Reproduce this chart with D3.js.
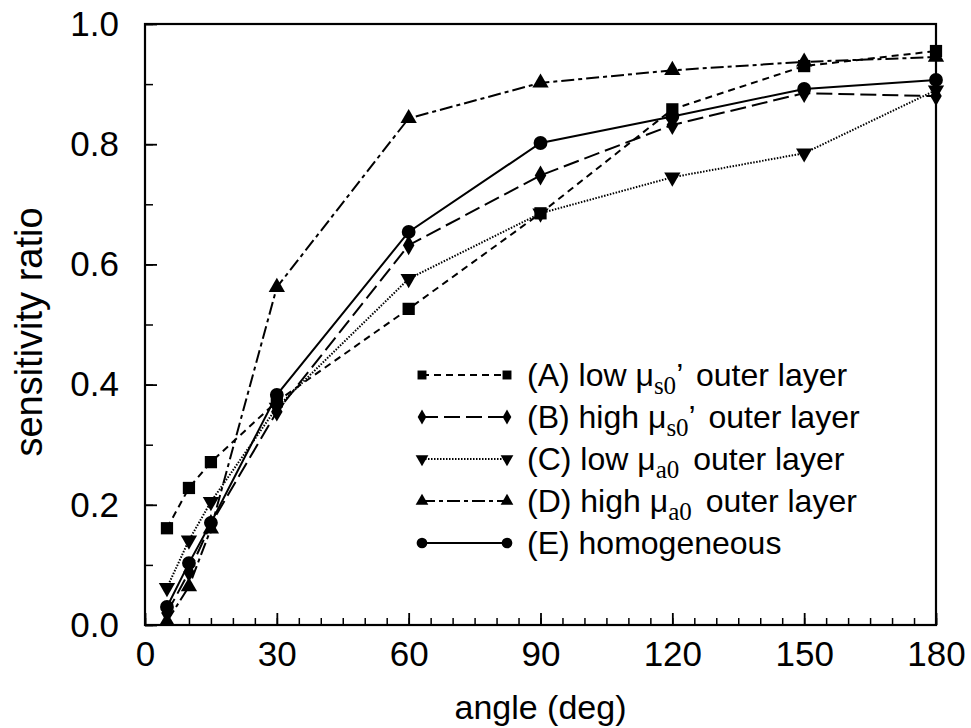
<!DOCTYPE html>
<html>
<head>
<meta charset="utf-8">
<script src="https://cdn.jsdelivr.net/npm/d3@7"></script>
<style>
  body { margin: 0; background: #fff; }
  svg text { font-family: "Liberation Sans", Arial, Helvetica, sans-serif; fill: #000; }
</style>
</head>
<body>
<div id="chart"></div>
<script>
const frame_width = 971;
const frame_height = 728;
const margins = {left: 145, right: 35, top: 24, bottom: 103};

// data
const angles = [5, 10, 15, 30, 60, 90, 120, 150, 180];
const lowMus = [0.161, 0.228, 0.271, 0.372, 0.526, 0.685, 0.858, 0.930, 0.955];
const highMus = [0.020, 0.088, 0.168, 0.355, 0.632, 0.748, 0.832, 0.885, 0.880];
const lowMua = [0.062, 0.141, 0.205, 0.362, 0.576, 0.685, 0.745, 0.785, 0.890];
const highMua = [0.006, 0.064, 0.160, 0.562, 0.843, 0.902, 0.923, 0.937, 0.945];
const homog = [0.030, 0.103, 0.170, 0.383, 0.654, 0.802, 0.846, 0.892, 0.907];

const x_ticks = [0, 30, 60, 90, 120, 150, 180];
const y_ticks = [0, 0.2, 0.4, 0.6, 0.8, 1.0];

const series = [
    {key: "A", values: lowMus, symbol: d3.symbolSquare, size: 150, small: 80, rot: 0, dash: "7,5", width: 2},
    {key: "B", values: highMus, symbol: d3.symbolDiamond, size: 115, small: 65, rot: 0, dash: "16,6", width: 2},
    {key: "C", values: lowMua, symbol: d3.symbolTriangle, size: 115, small: 70, rot: 180, dash: "1.5,1.5", width: 2},
    {key: "D", values: highMua, symbol: d3.symbolTriangle, size: 115, small: 70, rot: 0, dash: "13,4,4,4", width: 2},
    {key: "E", values: homog, symbol: d3.symbolCircle, size: 150, small: 90, rot: 0, dash: null, width: 2}
];

const FRAME = d3.select("#chart")
    .append("svg")
        .attr("width", frame_width)
        .attr("height", frame_height);

const X_SCALE = d3.scaleLinear()
    .domain([0, 180])
    .range([margins.left, frame_width - margins.right]);

const Y_SCALE = d3.scaleLinear()
    .domain([0, 1])
    .range([frame_height - margins.bottom, margins.top]);

// minor ticks, pointing inward
FRAME.append("g")
    .attr("transform", "translate(0," + (frame_height - margins.bottom) + ")")
    .call(d3.axisBottom(X_SCALE).tickValues(d3.range(0, 181, 5)).tickSize(-7).tickFormat(""))
    .call(g => g.select(".domain").remove())
    .selectAll("line").attr("stroke-width", 1.5);

FRAME.append("g")
    .attr("transform", "translate(" + margins.left + ",0)")
    .call(d3.axisLeft(Y_SCALE).tickValues(d3.range(0, 1.01, 0.1)).tickSize(-8).tickFormat(""))
    .call(g => g.select(".domain").remove())
    .selectAll("line").attr("stroke-width", 1.5);

// major ticks with labels
FRAME.append("g")
    .attr("transform", "translate(0," + (frame_height - margins.bottom) + ")")
    .call(d3.axisBottom(X_SCALE).tickValues(x_ticks).tickSize(-12).tickPadding(16).tickFormat(d3.format("d")))
    .call(g => g.select(".domain").remove())
    .call(g => g.selectAll("line").attr("stroke-width", 1.8))
    .selectAll("text").attr("font-size", "35px");

FRAME.append("g")
    .attr("transform", "translate(" + margins.left + ",0)")
    .call(d3.axisLeft(Y_SCALE).tickValues(y_ticks).tickSize(-12).tickPadding(26).tickFormat(d3.format(".1f")))
    .call(g => g.select(".domain").remove())
    .call(g => g.selectAll("line").attr("stroke-width", 1.8))
    .selectAll("text").attr("font-size", "35px");

// plot box
FRAME.append("rect")
    .attr("x", X_SCALE(0))
    .attr("y", Y_SCALE(1))
    .attr("width", X_SCALE(180) - X_SCALE(0))
    .attr("height", Y_SCALE(0) - Y_SCALE(1))
    .attr("fill", "none")
    .attr("stroke", "#000")
    .attr("stroke-width", 2.2);

// axis titles
FRAME.append("text")
    .attr("x", (X_SCALE(0) + X_SCALE(180)) / 2)
    .attr("y", 719)
    .attr("text-anchor", "middle")
    .attr("font-size", "34px")
    .text("angle (deg)");

FRAME.append("text")
    .attr("transform", "translate(42,332) rotate(-90)")
    .attr("text-anchor", "middle")
    .attr("font-size", "38px")
    .text("sensitivity ratio");

// lines and markers
const line = d3.line()
    .x((d, i) => X_SCALE(angles[i]))
    .y(d => Y_SCALE(d));

series.forEach(s => {
    FRAME.append("path")
        .datum(s.values)
        .attr("d", line)
        .attr("fill", "none")
        .attr("stroke", "#000")
        .attr("stroke-width", s.width)
        .attr("stroke-dasharray", s.dash);

    FRAME.append("g")
        .selectAll("path")
        .data(s.values)
        .enter()
        .append("path")
            .attr("d", d3.symbol().type(s.symbol).size(s.size))
            .attr("transform", (d, i) => "translate(" + X_SCALE(angles[i]) + "," + Y_SCALE(d) + ") rotate(" + s.rot + ")")
            .attr("fill", "#000");
});

// legend
const legend = FRAME.append("g");
const legend_rows = [
    {text: "(A) low ", mu: "s0", prime: true, rest: " outer layer"},
    {text: "(B) high ", mu: "s0", prime: true, rest: " outer layer"},
    {text: "(C) low ", mu: "a0", prime: false, rest: " outer layer"},
    {text: "(D) high ", mu: "a0", prime: false, rest: " outer layer"},
    {text: "(E) homogeneous", mu: null, prime: false, rest: ""}
];
const leg_x1 = 422, leg_x2 = 507, leg_y0 = 375, leg_dy = 42;

series.forEach((s, i) => {
    const yy = leg_y0 + i * leg_dy;
    legend.append("line")
        .attr("x1", leg_x1).attr("x2", leg_x2)
        .attr("y1", yy).attr("y2", yy)
        .attr("stroke", "#000")
        .attr("stroke-width", 1.8)
        .attr("stroke-dasharray", s.dash);
    [leg_x1, leg_x2].forEach(xx => {
        legend.append("path")
            .attr("d", d3.symbol().type(s.symbol).size(s.small))
            .attr("transform", "translate(" + xx + "," + yy + ") rotate(" + s.rot + ")")
            .attr("fill", "#000");
    });

    const r = legend_rows[i];
    const t = legend.append("text")
        .attr("x", 527)
        .attr("y", yy + 11)
        .attr("font-size", "32px");
    t.append("tspan").text(r.text);
    if (r.mu) {
        t.append("tspan").text("\u03bc");
        t.append("tspan")
            .attr("dy", 8)
            .attr("font-size", "25px")
            .attr("font-family", "'Liberation Serif', 'Times New Roman', serif")
            .text(r.mu);
        if (r.prime) {
            t.append("tspan").attr("dy", -8).text("\u2019");
            t.append("tspan").attr("dx", 5).text(r.rest);
        } else {
            t.append("tspan").attr("dy", -8).attr("dx", 5).text(r.rest);
        }
    }
});
</script>
</body>
</html>
